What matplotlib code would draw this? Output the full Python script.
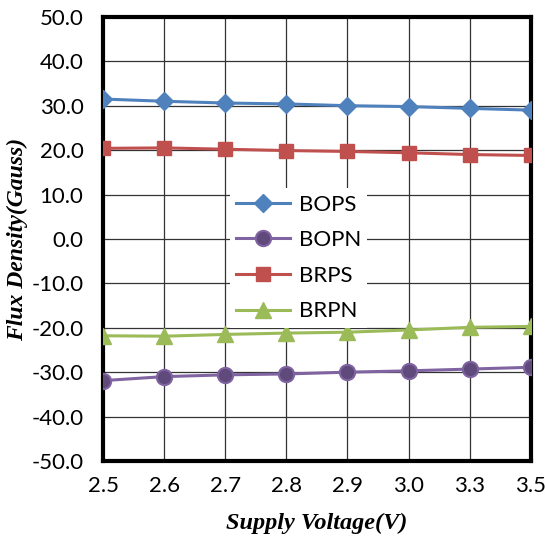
import matplotlib
matplotlib.use("Agg")
import matplotlib.pyplot as plt
import numpy as np

voltages = ["2.5", "2.6", "2.7", "2.8", "2.9", "3.0", "3.3", "3.5"]
bops = [31.5, 31.0, 30.6, 30.4, 30.0, 29.8, 29.4, 29.0]
bopn = [-31.9, -31.0, -30.6, -30.4, -30.0, -29.7, -29.3, -28.9]
brps = [20.4, 20.5, 20.2, 19.9, 19.7, 19.4, 19.0, 18.8]
brpn = [-21.8, -21.9, -21.5, -21.2, -21.0, -20.5, -19.9, -19.7]
yticks = [-50, -40, -30, -20, -10, 0, 10, 20, 30, 40, 50]

plt.rcParams['font.family'] = ['Lato', 'DejaVu Sans']

fig = plt.figure(figsize=(5.45, 5.39), dpi=100)
ax = fig.add_axes([0.189, 0.1447, 0.785, 0.824])
x = np.arange(len(voltages))

ax.plot(x, bops, color='#4F81BD', lw=2.2, marker='D', ms=9, mfc='#4F81BD', mec='#4F81BD', label='BOPS', zorder=3)
ax.plot(x, bopn, color='#8064A2', lw=2.2, marker='o', ms=11, mfc='#604A7B', mec='#8064A2', mew=1.5, label='BOPN', zorder=3)
ax.plot(x, brps, color='#C0504D', lw=2.2, marker='s', ms=10, mfc='#C0504D', mec='#C0504D', label='BRPS', zorder=3)
ax.plot(x, brpn, color='#9BBB59', lw=2.2, marker='^', ms=11, mfc='#9BBB59', mec='#9BBB59', label='BRPN', zorder=3)

ax.set_xlim(0, len(voltages) - 1)
ax.set_ylim(-50, 50)
ax.set_xticks(x)
ax.set_xticklabels(voltages)
ax.set_yticks(yticks)
ax.set_yticklabels([f"{v:.1f}" for v in yticks])
ax.tick_params(axis='both', length=0, labelsize=16)
ax.tick_params(axis='y', pad=14)
ax.tick_params(axis='x', pad=11)
ax.grid(True, color='#333333', lw=0.9, zorder=0)
for s in ax.spines.values():
    s.set_linewidth(3)
    s.set_color('black')

ax.set_xlabel('Supply Voltage(V)', family='Liberation Serif', fontweight='bold', style='italic', fontsize=17.5, labelpad=12)
ax.set_ylabel('Flux Density(Gauss)', family='Liberation Serif', fontweight='bold', style='italic', fontsize=17, labelpad=2.5)

leg = ax.legend(loc='center', bbox_to_anchor=(0.457, 0.457), fontsize=16, frameon=True,
                facecolor='white', edgecolor='none', framealpha=1, fancybox=False,
                handlelength=2.4, labelspacing=0.7, borderpad=0.3, handletextpad=0.4)
leg.set_zorder(5)

fig.savefig('out.png', dpi=100)
